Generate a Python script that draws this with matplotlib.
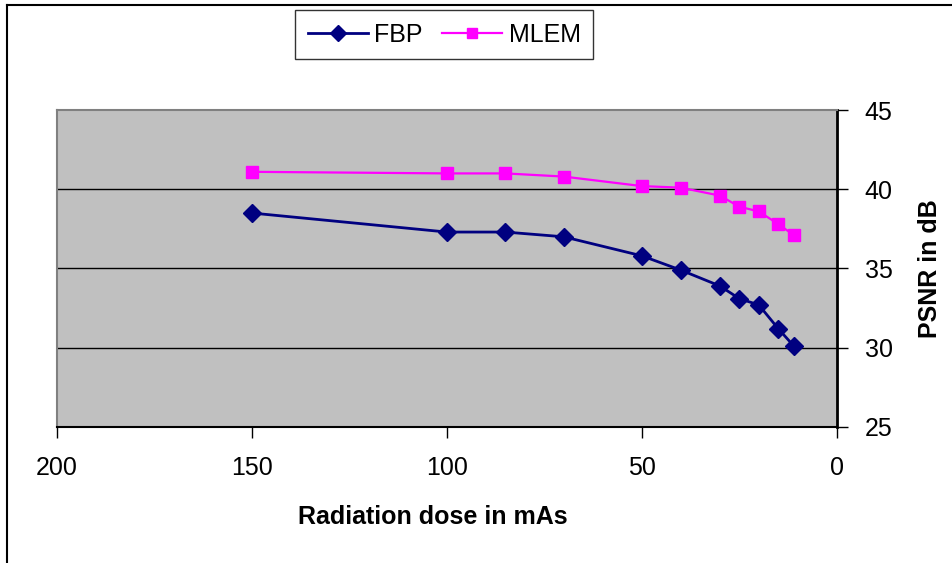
import matplotlib.pyplot as plt
from matplotlib.lines import Line2D

plt.rcParams['font.family'] = ['Liberation Sans', 'DejaVu Sans']

# data
dose_fbp = [150, 100, 85, 70, 50, 40, 30, 25, 20, 15, 11]
psnr_fbp = [38.5, 37.3, 37.3, 37.0, 35.8, 34.9, 33.9, 33.1, 32.7, 31.2, 30.1]
dose_mlem = [150, 100, 85, 70, 50, 40, 30, 25, 20, 15, 11]
psnr_mlem = [41.1, 41.0, 41.0, 40.8, 40.2, 40.1, 39.6, 38.9, 38.6, 37.8, 37.1]

x_ticks = [200, 150, 100, 50, 0]
y_ticks = [25, 30, 35, 40, 45]

fig = plt.figure(figsize=(9.52, 5.63), dpi=100)
ax = fig.add_axes([0.0596, 0.2416, 0.8194, 0.563])
ax.set_facecolor('#C0C0C0')

ax.plot(dose_fbp, psnr_fbp, color='#000080', lw=2, marker='D', ms=9,
        label='FBP', zorder=3)
ax.plot(dose_mlem, psnr_mlem, color='#FF00FF', lw=1.6, marker='s', ms=9,
        label='MLEM', zorder=3)

ax.set_xlim(200, 0)
ax.set_ylim(25, 45)
ax.set_xticks(x_ticks)
ax.set_yticks(y_ticks)
ax.yaxis.tick_right()
ax.tick_params(axis='both', labelsize=18, length=8, width=1, direction='out')
ax.tick_params(axis='x', pad=13)
ax.tick_params(axis='y', pad=12)

for y in [30, 35, 40]:
    ax.axhline(y, color='black', lw=1.0, zorder=1)

ax.spines['top'].set_color('#808080')
ax.spines['left'].set_color('#808080')
ax.spines['top'].set_linewidth(1.5)
ax.spines['left'].set_linewidth(1.5)
ax.spines['bottom'].set_linewidth(1.5)
ax.spines['right'].set_linewidth(2)

ax.set_xlabel('Radiation dose in mAs', fontsize=18, fontweight='bold')
ax.xaxis.set_label_coords(0.4825, -0.245)
ax.set_ylabel('PSNR in dB', fontsize=18, fontweight='bold')
ax.yaxis.set_label_position('right')
ax.yaxis.set_label_coords(1.104, 0.5)

leg = fig.legend(loc='upper left', bbox_to_anchor=(0.31, 0.982), ncol=2,
                 fontsize=18, frameon=True, fancybox=False, edgecolor='black',
                 handlelength=2.4, handletextpad=0.25, columnspacing=0.8,
                 borderpad=0.5, borderaxespad=0, markerscale=0.85)
leg.get_frame().set_linewidth(1)

# outer chart border (top and left visible)
fig.add_artist(Line2D([0.0074, 1.0], [0.992, 0.992], color='black', lw=1.5,
                      transform=fig.transFigure))
fig.add_artist(Line2D([0.0074, 0.0074], [0.0, 0.992], color='black', lw=1.5,
                      transform=fig.transFigure))

fig.savefig('out.png', dpi=100)
